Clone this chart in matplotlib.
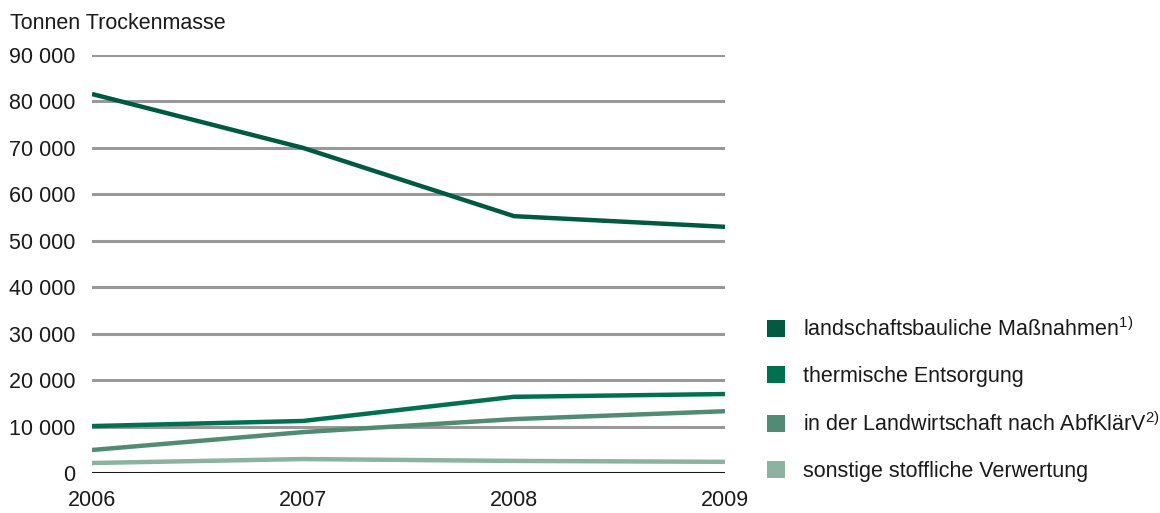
import matplotlib
matplotlib.use("Agg")
from matplotlib import pyplot as plt
from matplotlib.patches import Patch

plt.rcParams['font.family'] = ['Liberation Sans', 'DejaVu Sans']
plt.rcParams['mathtext.fontset'] = 'custom'
plt.rcParams['mathtext.rm'] = 'Liberation Sans'
plt.rcParams['mathtext.it'] = 'Liberation Sans'

years = [2006, 2007, 2008, 2009]
landschaft = [81600, 70000, 55300, 53000]
thermisch = [10100, 11200, 16400, 17000]
landwirtschaft = [4950, 8800, 11600, 13300]
sonstige = [2150, 3000, 2600, 2400]

labels = [
    "landschaftsbauliche Maßnahmen$^{1)}$",
    "thermische Entsorgung",
    "in der Landwirtschaft nach AbfKlärV$^{2)}$",
    "sonstige stoffliche Verwertung",
]
colors = ["#005a40", "#00704e", "#528b73", "#8bb39f"]
yticks = list(range(0, 90001, 10000))
ytick_labels = ["0" if v == 0 else f"{v // 1000} 000" for v in yticks]

fs = 15.5
fig = plt.figure(figsize=(11.6, 5.13), dpi=100)
ax = fig.add_axes([0.0793, 0.078, 0.5457, 0.8148])

# gridlines first, series on top
for v in yticks[1:]:
    ax.axhline(v, color="#999999", lw=2.2, zorder=1)
ax.axhline(0, color="#1a1a1a", lw=2.2, zorder=1)

series = [sonstige, landwirtschaft, thermisch, landschaft]
for vals, c in zip(series, colors[::-1]):
    ax.plot(years, vals, color=c, lw=3.2, solid_capstyle="butt", zorder=3)

ax.set_xlim(2006, 2009)
ax.set_ylim(0, 90000)
ax.set_xticks(years)
ax.set_xticklabels([str(y) for y in years])
ax.set_yticks(yticks)
ax.set_yticklabels(ytick_labels)
ax.tick_params(length=0, labelsize=fs, colors="#1a1a1a")
ax.tick_params(axis="y", pad=12)
ax.tick_params(axis="x", pad=12)
for s in ax.spines.values():
    s.set_visible(False)

fig.text(0.0086, 0.955, "Tonnen Trockenmasse", fontsize=fs, color="#1a1a1a", va="center")

handles = [Patch(facecolor=c, edgecolor="none") for c in colors]
fig.legend(handles, labels, loc="upper left", bbox_to_anchor=(0.661, 0.381),
           frameon=False, fontsize=fs, handlelength=0.84, handleheight=0.84,
           handletextpad=0.84, labelspacing=1.17, borderpad=0, borderaxespad=0,
           labelcolor="#1a1a1a")

plt.savefig("out.png", dpi=100)
